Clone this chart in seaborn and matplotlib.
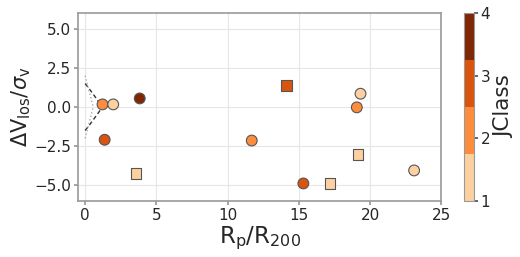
import numpy as np
import pandas as pd
import matplotlib
matplotlib.use("Agg")
import matplotlib.pyplot as plt
import seaborn as sns
from matplotlib.colors import ListedColormap, Normalize
from matplotlib.cm import ScalarMappable

# data
rp = [1.22, 1.97, 3.83, 1.37, 3.57, 11.69, 14.11, 19.32, 19.06, 19.15, 23.08, 15.31, 17.18]
dv = [0.17, 0.17, 0.55, -2.09, -4.25, -2.14, 1.38, 0.85, -0.02, -3.02, -4.05, -4.88, -4.88]
jclass = [2, 1, 4, 3, 1, 2, 3, 1, 2, 1, 1, 3, 1]
shape = ["circle", "circle", "circle", "circle", "square", "circle", "square",
         "circle", "circle", "square", "circle", "circle", "square"]

caustic_x = [0.0, 0.3, 0.6, 0.9, 1.1]
caustic_y = [1.5, 1.15, 0.78, 0.4, 0.15]
inner_x = [0.0, 0.2, 0.4, 0.55]
inner_y = [2.0, 1.3, 0.6, 0.05]

colors = ["#fdd0a2", "#fd8d3c", "#d9540d", "#7f2704"]
cmap = ListedColormap(colors)
norm = Normalize(vmin=1, vmax=4)

df = pd.DataFrame({"rp": rp, "dv": dv, "jclass": jclass, "shape": shape})

sns.set_theme(style="whitegrid")
plt.rcParams["font.family"] = ["DejaVu Sans"]
plt.rcParams["mathtext.fontset"] = "dejavusans"

fig = plt.figure(figsize=(5.2, 2.57), dpi=100)
ax = fig.add_axes([0.15, 0.218, 0.699, 0.731])
cax = fig.add_axes([0.892, 0.218, 0.019, 0.731])

# caustic lines
ax.plot(caustic_x, caustic_y, ls=(0, (3, 2)), color="#333333", lw=1.0, zorder=1)
ax.plot(caustic_x, [-v for v in caustic_y], ls=(0, (3, 2)), color="#333333", lw=1.0, zorder=1)
ax.plot(inner_x, inner_y, ls=":", color="#aaaaaa", lw=1.0, zorder=1)
ax.plot(inner_x, [-v for v in inner_y], ls=":", color="#aaaaaa", lw=1.0, zorder=1)

sns.scatterplot(data=df, x="rp", y="dv", hue="jclass", palette=cmap, hue_norm=norm,
                style="shape", markers={"circle": "o", "square": "s"},
                s=60, edgecolor="#555555", linewidth=0.8, legend=False, ax=ax, zorder=3)

ax.set_xlim(-0.5, 25)
ax.set_ylim(-6, 6)
ax.set_xticks([0, 5, 10, 15, 20, 25])
ax.set_yticks([-5.0, -2.5, 0.0, 2.5, 5.0])
ax.set_yticklabels(["\u22125.0", "\u22122.5", "0.0", "2.5", "5.0"])
ax.set_xlabel(r"$\mathrm{R_p/R_{200}}$", fontsize=16.5, labelpad=1)
ax.set_ylabel(r"$\Delta\mathrm{V_{los}}/\sigma_{\mathrm{v}}$", fontsize=15, labelpad=1)
ax.tick_params(labelsize=11, length=3, color="#999999", pad=2, bottom=True, left=True)
for sp in ax.spines.values():
    sp.set_color("#999999")
    sp.set_linewidth(1.2)
ax.grid(color="#e6e6e6", lw=0.8)

sm = ScalarMappable(norm=norm, cmap=cmap)
cb = fig.colorbar(sm, cax=cax, ticks=[1, 2, 3, 4])
cb.set_label("JClass", fontsize=15.5, labelpad=3)
cb.ax.tick_params(labelsize=11, length=3, color="#555555", pad=2)
cb.outline.set_edgecolor("#999999")
cb.outline.set_linewidth(0.8)

fig.savefig("out.png", dpi=100)
